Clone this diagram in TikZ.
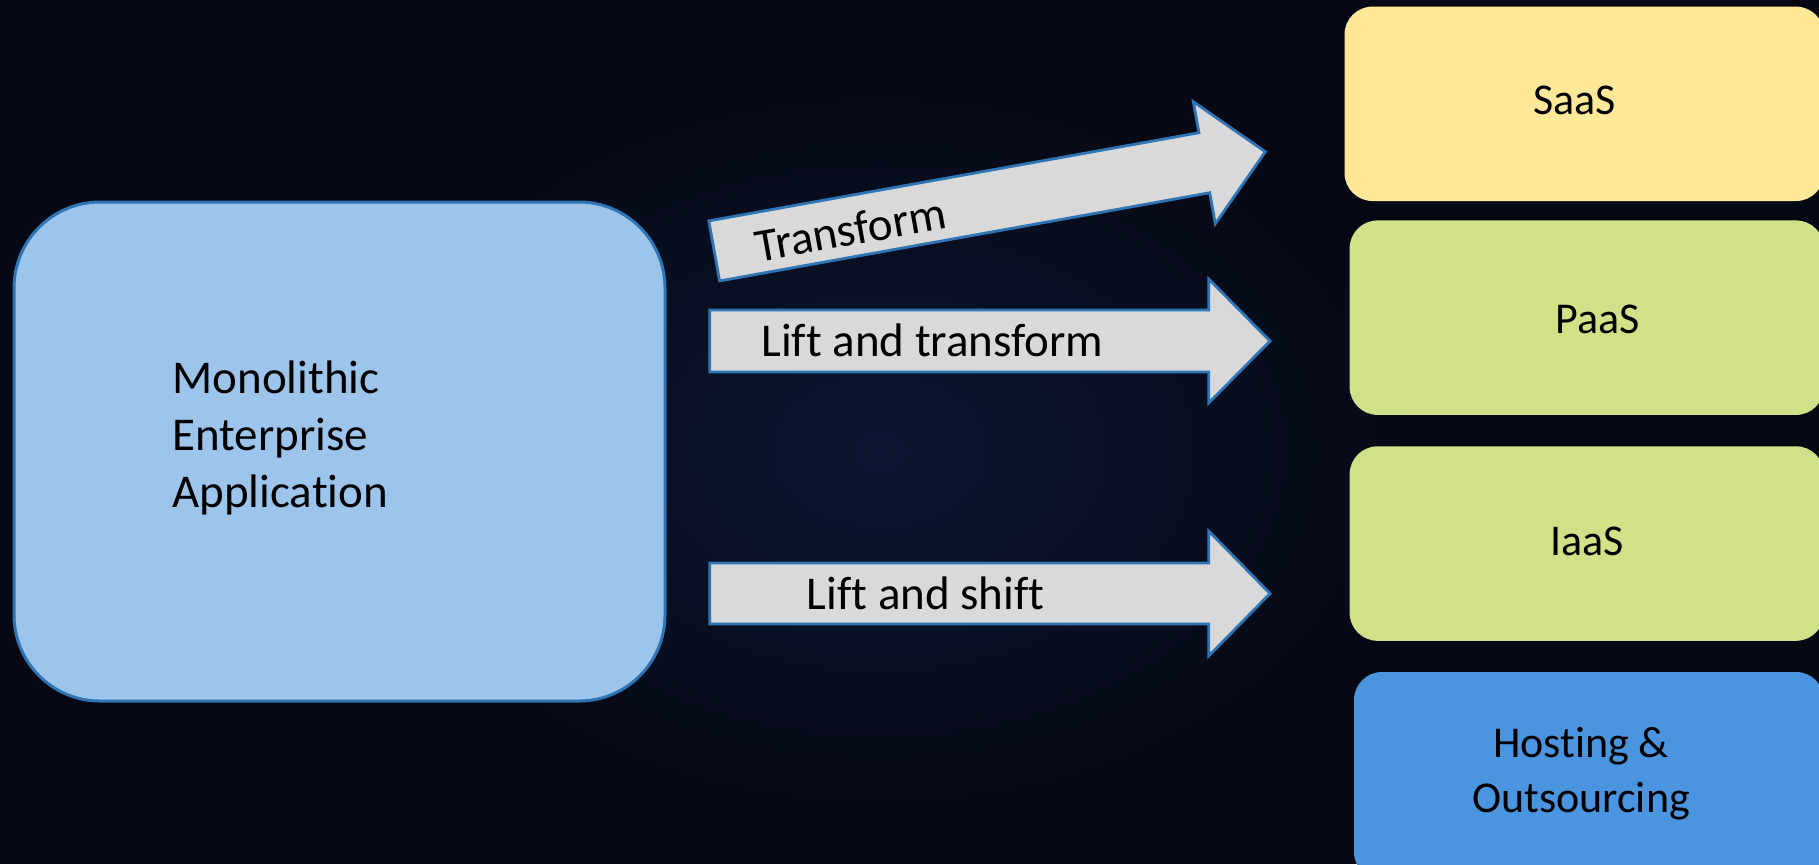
\documentclass[tikz,border=0pt]{standalone}
\usepackage{fontspec}
\setmainfont{Carlito}[Ligatures=NoCommon]
\definecolor{bgcol}{RGB}{6,9,20}
\definecolor{glow}{RGB}{12,22,50}
\definecolor{edgeblue}{RGB}{46,117,182}
\definecolor{appfill}{RGB}{157,197,236}
\definecolor{arrowfill}{RGB}{217,217,217}
\definecolor{saasfill}{RGB}{255,233,153}
\definecolor{paasfill}{RGB}{208,225,135}
\definecolor{hostfill}{RGB}{74,148,224}
\begin{document}
\begin{tikzpicture}[x=0.5pt,y=-0.5pt,
  appbox/.style={draw=edgeblue, line width=1.5pt, fill=appfill, rounded corners=43pt, inner sep=0pt},
  blockarrow/.style={draw=edgeblue, line width=1.4pt, fill=arrowfill, line join=miter},
  tier/.style={rounded corners=14pt},
  lbl/.style={font=\fontsize{23.5}{28.5}\selectfont, text=black, inner sep=0pt},
  tierlbl/.style={font=\fontsize{22}{27.5}\selectfont, text=black, inner sep=0pt, align=center}]
\useasboundingbox (0,0) rectangle (1819,864);
\clip (0,0) rectangle (1819,864);
\fill[bgcol] (0,0) rectangle (1819,864);
\shade[inner color=glow, outer color=bgcol] (880,450) ellipse (270pt and 190pt);

% main application box
\node (app) [appbox, minimum width=325.5pt, minimum height=249.5pt] at (339.5,451.5) {};
\node (apptxt) [lbl, anchor=base west, align=left] at (172,507.6) {Monolithic\\Enterprise\\Application};

% block arrows
\begin{scope}[shift={(714.2,250.9)}, rotate=10.2]
  \draw[blockarrow] (0,-30.5) -- (498,-30.5) -- (498,-62) -- (560,0) -- (498,62) -- (498,30.5) -- (0,30.5) -- cycle;
  \node (ttf) [lbl, anchor=base, rotate=10.2] at (138,19) {Transform};
\end{scope}
\draw[blockarrow] (709.7,310) -- (1208.7,310) -- (1208.7,279) -- (1270,341) -- (1208.7,403) -- (1208.7,372) -- (709.7,372) -- cycle;
\node (lat) [lbl, anchor=base west] at (761,356.3) {Lift and transform};
\draw[blockarrow] (709.7,563) -- (1208.7,563) -- (1208.7,531) -- (1270,593.5) -- (1208.7,656) -- (1208.7,624) -- (709.7,624) -- cycle;
\node (las) [lbl, anchor=base west] at (806.5,609.3) {Lift and shift};

% service tiers
\fill[tier, saasfill] (1344.5,6.6) rectangle (1824,201);
\node (saas) [tierlbl, anchor=base] at (1574.6,114.6) {SaaS};
\fill[tier, paasfill] (1349.6,220.4) rectangle (1824,414.9);
\node (paas) [tierlbl, anchor=base] at (1598,333) {PaaS};
\fill[tier, paasfill] (1349.6,446.3) rectangle (1824,640.8);
\node (iaas) [tierlbl, anchor=base] at (1587,555) {IaaS};
\fill[tier, hostfill] (1354,672) rectangle (1824,880);
\node (host) [tierlbl, anchor=base] at (1581,812.7) {Hosting \&\\Outsourcing};
\end{tikzpicture}
\end{document}
